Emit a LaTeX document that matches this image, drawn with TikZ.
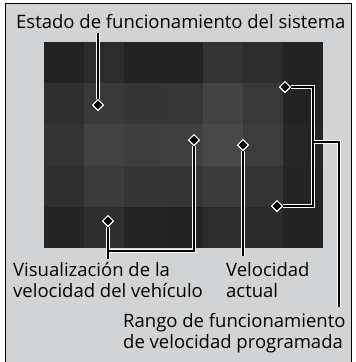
\documentclass[tikz,border=0pt]{standalone}
\usepackage{fontspec}
\setmainfont{Open Sans}
\usetikzlibrary{shapes.geometric}
\definecolor{panelgray}{RGB}{209,211,212}
\definecolor{darkcell}{RGB}{35,31,32}
\tikzset{
  marker/.style={shape=diamond, fill=black, draw=white, line width=1pt, minimum size=11pt, inner sep=0pt},
  callout/.style={draw=black, line width=2.2pt, preaction={draw=white, line width=4.8pt}},
  lbl/.style={anchor=base west, inner sep=0pt, font=\fontsize{18.5}{21}\selectfont, text=black},
}
\begin{document}
\begin{tikzpicture}[x=1pt,y=-1pt]
\useasboundingbox (0,0) rectangle (356,362);
\fill[white] (0,0) rectangle (356,362);
% panel
\begin{scope}
\clip (0,0) rectangle (356,362);
\filldraw[fill=panelgray, draw=black, line width=1.6pt] (5.5,3.5) rectangle (351.5,375);
\end{scope}
% screen grid
\fill[darkcell] (44,42) rectangle (323,248);
\foreach \row [count=\r] in {{35,43,35,35,51,45,35},{47,57,53,54,67,56,35},{51,66,63,64,73,60,38},{47,59,53,52,59,51,36},{37,46,36,35,44,42,35}}{
  \foreach \v [count=\c] in \row {
    \fill[fill={rgb,255:red,\v;green,\v;blue,\v}] ({44+(\c-1)*39.857},{42+(\r-1)*41.2}) rectangle ++(39.857,41.2);
  }
}
% markers
\node[marker] (d1) at (98,105) {};
\node[marker] (d2) at (285,87) {};
\node[marker] (d3) at (277,206) {};
\node[marker] (d4) at (194,140) {};
\node[marker] (d5) at (108,221) {};
\node[marker] (d6) at (243,145) {};
% connector ends
\coordinate (e1) at (98,33);
\coordinate (b1) at (313,87);
\coordinate (b2) at (313,206);
\coordinate (b3) at (313,142);
\coordinate (b4) at (339,142);
\coordinate (e4) at (339,307);
\coordinate (v1) at (194,251);
\coordinate (v2) at (108,251);
\coordinate (e2) at (108,259);
\coordinate (e3) at (243,256);
% connectors
\draw[callout] (e1) -- (d1);
\draw[callout] (d2) -- (b1) -- (b2) -- (d3) (b3) -- (b4) -- (e4);
\draw[callout] (d4) -- (v1) -- (v2) (d5) -- (e2);
\draw[callout] (d6) -- (e3);
% redraw markers on top
\node[marker] at (d1.center) {};
\node[marker] at (d2.center) {};
\node[marker] at (d3.center) {};
\node[marker] at (d4.center) {};
\node[marker] at (d5.center) {};
\node[marker] at (d6.center) {};
% labels
\node[lbl] (t1) at (16,28) {Estado de funcionamiento del sistema};
\node[lbl] (t2a) at (13,276) {Visualización de la};
\node[lbl] (t2b) at (13,297) {velocidad del vehículo};
\node[lbl] (t3a) at (226,276) {Velocidad};
\node[lbl] (t3b) at (226,297) {actual};
\node[lbl] (t4a) at (123,327) {Rango de funcionamiento};
\node[lbl] (t4b) at (123,348) {de velocidad programada};
\end{tikzpicture}
\end{document}
